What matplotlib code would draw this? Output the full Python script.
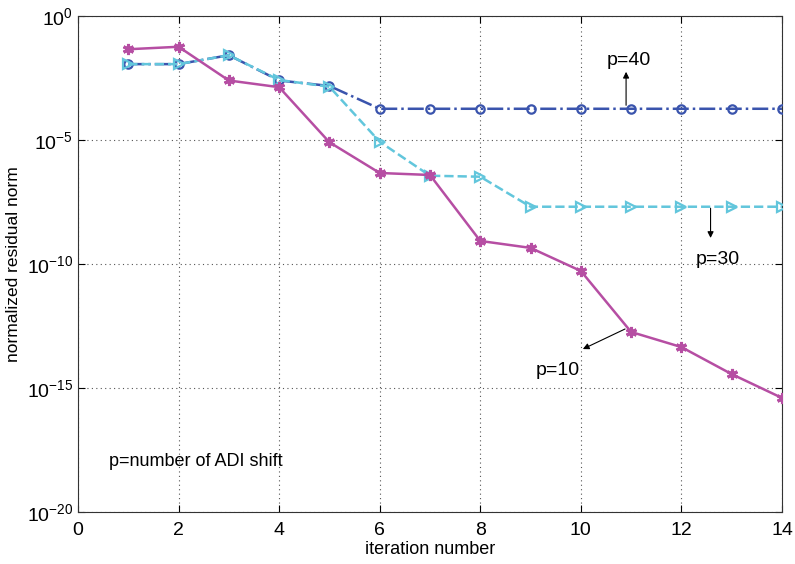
import numpy as np
import matplotlib
matplotlib.use("Agg")
import matplotlib.pyplot as plt
from matplotlib.ticker import FixedLocator, FuncFormatter, NullLocator

plt.rcParams['font.family'] = ['Liberation Sans', 'DejaVu Sans']
plt.rcParams['mathtext.fontset'] = 'custom'
plt.rcParams['mathtext.rm'] = 'Liberation Sans'
plt.rcParams['mathtext.it'] = 'Liberation Sans'

# iteration numbers and log10 of residual norms per shift count
iters = np.arange(1, 15)
log_p10 = [-1.34, -1.24, -2.60, -2.87, -5.09, -6.33, -6.41, -9.07, -9.35,
           -10.28, -12.74, -13.35, -14.44, -15.40]
log_p30 = [-1.94, -1.94, -1.58, -2.58, -2.85, -5.07, -6.44, -6.48, -7.69,
           -7.69, -7.69, -7.69, -7.69, -7.69]
log_p40 = [-1.94, -1.94, -1.58, -2.60, -2.82, -3.74, -3.74, -3.74, -3.74,
           -3.74, -3.74, -3.74, -3.74, -3.74]

res_p10 = 10.0 ** np.array(log_p10)
res_p30 = 10.0 ** np.array(log_p30)
res_p40 = 10.0 ** np.array(log_p40)

fig = plt.figure(figsize=(7.95, 5.64), dpi=100)
ax = fig.add_axes([0.0981, 0.0922, 0.8855, 0.8794])

ax.plot(iters, res_p40, color='#3a54ad', ls='-.', lw=1.8, marker='o',
        ms=6, mfc='none', mew=1.6, zorder=3)
ax.plot(iters, res_p30, color='#62c6dc', ls='--', lw=1.8, marker='>',
        ms=7, mfc='none', mew=1.6, zorder=3)
ax.plot(iters, res_p10, color='#b64ea3', ls='-', lw=1.8, marker=(6, 2, 0),
        ms=8, mew=2.2, zorder=4)

ax.set_yscale('log')
ax.set_xlim(0, 14)
ax.set_ylim(1e-20, 1e0)
ax.set_xticks(np.arange(0, 15, 2))
ax.yaxis.set_major_locator(FixedLocator([1e-20, 1e-15, 1e-10, 1e-5, 1e0]))
ax.yaxis.set_minor_locator(NullLocator())
ax.yaxis.set_major_formatter(FuncFormatter(
    lambda v, pos: r'$10^{%d}$' % int(round(np.log10(v)))))

ax.grid(True, ls=(0, (1, 3)), color='#555555', lw=0.8)
ax.tick_params(direction='in', labelsize=14, length=5, top=True, right=True)
ax.tick_params(axis='x', pad=7)
for s in ax.spines.values():
    s.set_color('#333333')
    s.set_linewidth(0.8)

ax.set_xlabel('iteration number', fontsize=13, labelpad=2)
ax.set_ylabel('normalized residual norm', fontsize=12.5, labelpad=4)

arrow = dict(arrowstyle='-|>', color='black', lw=0.8, mutation_scale=9,
             shrinkA=0, shrinkB=0)

# p=40 label
ax.annotate('', xy=(10.9, 10 ** -2.25), xytext=(10.9, 10 ** -3.6),
            arrowprops=arrow)
ax.text(10.52, 10 ** -1.78, 'p=40', fontsize=14, va='center')

# p=30 label
ax.annotate('', xy=(12.58, 10 ** -8.95), xytext=(12.58, 10 ** -7.75),
            arrowprops=arrow)
ax.text(12.28, 10 ** -9.8, 'p=30', fontsize=14, va='center')

# p=10 label
ax.annotate('', xy=(10.04, 10 ** -13.43), xytext=(10.88, 10 ** -12.62),
            arrowprops=arrow)
ax.text(9.1, 10 ** -14.3, 'p=10', fontsize=14, va='center')

ax.text(0.62, 10 ** -17.95, 'p=number of ADI shift', fontsize=13, va='center')

fig.savefig('out.png', dpi=100)
